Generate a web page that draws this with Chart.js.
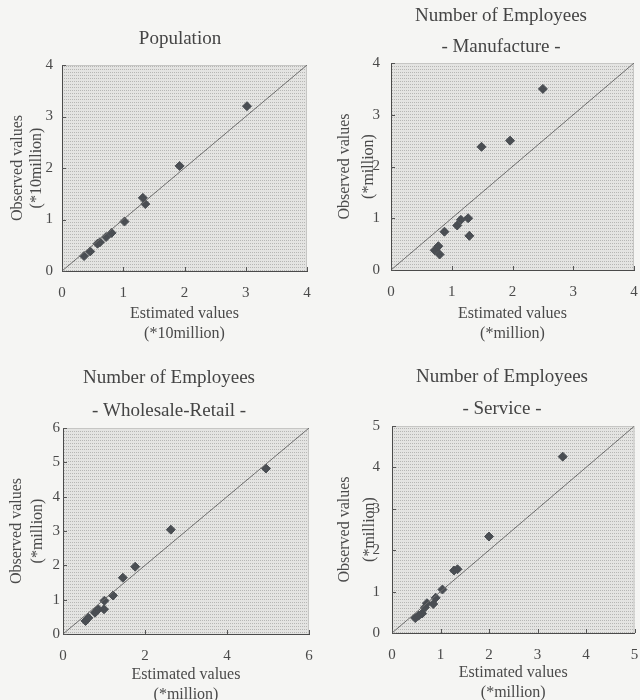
<!DOCTYPE html>
<html>
<head>
<meta charset="utf-8">
<title>Observed vs estimated</title>
<script src="https://cdn.jsdelivr.net/npm/chart.js@4.4.1/dist/chart.umd.min.js"></script>
<style>
  html, body { margin: 0; padding: 0; background: #f5f5f3; overflow: hidden; }
  .panel { position: absolute; }
</style>
</head>
<body>
<div class="panel" style="left:0;top:0"><canvas id="c1" width="320" height="350"></canvas></div>
<div class="panel" style="left:320px;top:0"><canvas id="c2" width="320" height="350"></canvas></div>
<div class="panel" style="left:0;top:350px"><canvas id="c3" width="320" height="360"></canvas></div>
<div class="panel" style="left:320px;top:350px"><canvas id="c4" width="320" height="360"></canvas></div>
<script>
const popEst = [0.36, 0.46, 0.58, 0.62, 0.72, 0.81, 1.02, 1.32, 1.36, 1.92, 3.02];
const popObs = [0.29, 0.38, 0.53, 0.56, 0.66, 0.74, 0.96, 1.42, 1.30, 2.04, 3.20];

const manEst = [0.72, 0.78, 0.80, 0.88, 1.09, 1.15, 1.27, 1.29, 1.49, 1.96, 2.50];
const manObs = [0.38, 0.46, 0.30, 0.74, 0.86, 0.97, 1.00, 0.66, 2.38, 2.50, 3.50];

const wsEst = [0.55, 0.62, 0.78, 0.86, 1.00, 1.01, 1.22, 1.46, 1.76, 2.63, 4.95];
const wsObs = [0.38, 0.47, 0.62, 0.72, 0.72, 0.97, 1.12, 1.64, 1.96, 3.04, 4.82];

const svEst = [0.48, 0.55, 0.62, 0.68, 0.72, 0.85, 0.90, 1.04, 1.28, 1.35, 2.00, 3.52];
const svObs = [0.36, 0.42, 0.47, 0.62, 0.72, 0.70, 0.85, 1.05, 1.51, 1.54, 2.33, 4.26];

const axisMax = [4, 4, 6, 5];
const xStep = [1, 1, 2, 1];
const yStep = [1, 1, 1, 1];

const panelTitles = [
  ['Population'],
  ['Number of Employees', '- Manufacture -'],
  ['Number of Employees', '- Wholesale-Retail -'],
  ['Number of Employees', '- Service -']
];
const unitLabels = ['(*10million)', '(*million)', '(*million)', '(*million)'];

const serif = '"Liberation Serif", "Times New Roman", serif';
const textGray = '#4a4a4a';

// where each panel sits inside its canvas
const layouts = [
  { id: 'c1', yW: 62, xH: 79, right: 13, tPad: [27.6, 14.6], tLH: '22.8px', tCx: 180, yPad: 7.75, yLH: '19.5px', yTick: 9, xPadB: 6 },
  { id: 'c2', yW: 71, xH: 80, right: 6, tPad: [1, 0], tLH: '31px', tCx: 181, yPad: 13, yLH: '24px', yTick: 11, xPadB: 6 },
  { id: 'c3', yW: 63, xH: 76, right: 11, tPad: [11.5, 0.5], tLH: '33px', tCx: 169, yPad: 6, yLH: '21px', yTick: 3, xPadB: 5 },
  { id: 'c4', yW: 72, xH: 77, right: 5, tPad: [11, 1], tLH: '32px', tCx: 182, yPad: 12.5, yLH: '25px', yTick: 12, xPadB: 7 }
];

const series = [[popEst, popObs], [manEst, manObs], [wsEst, wsObs], [svEst, svObs]];

let dotPattern = null;
function getPattern(ctx) {
  if (dotPattern) return dotPattern;
  const c = document.createElement('canvas');
  c.width = 2; c.height = 3;
  const g = c.getContext('2d');
  g.fillStyle = '#e4e4e2';
  g.fillRect(0, 0, 2, 3);
  g.fillStyle = '#b6b6b4';
  g.fillRect(0, 0, 1, 1);
  dotPattern = ctx.createPattern(c, 'repeat');
  return dotPattern;
}

// dotted plot background + small inward tick marks
const plotFrame = {
  id: 'plotFrame',
  afterLayout(chart, args, opts) {
    // the titles sit a bit left of the plot centre
    const tb = chart.titleBlock;
    if (tb && opts.cx) {
      tb.left = opts.cx - 160;
      tb.right = opts.cx + 160;
    }
  },
  beforeDraw(chart) {
    const { ctx, chartArea: a } = chart;
    ctx.save();
    ctx.fillStyle = getPattern(ctx);
    ctx.fillRect(a.left, a.top, a.width, a.height);
    ctx.strokeStyle = '#c6c6c4';
    ctx.lineWidth = 1;
    ctx.beginPath();
    ctx.moveTo(a.left, a.top + 0.5);
    ctx.lineTo(a.right - 0.5, a.top + 0.5);
    ctx.lineTo(a.right - 0.5, a.bottom);
    ctx.stroke();
    ctx.restore();
  },
  afterDraw(chart) {
    const { ctx, chartArea: a, scales } = chart;
    ctx.save();
    ctx.strokeStyle = '#555';
    ctx.lineWidth = 1;
    ctx.beginPath();
    scales.x.ticks.forEach(t => {
      const px = Math.round(scales.x.getPixelForValue(t.value)) + 0.5;
      ctx.moveTo(px, a.bottom);
      ctx.lineTo(px, a.bottom - 4);
    });
    scales.y.ticks.forEach(t => {
      const py = Math.round(scales.y.getPixelForValue(t.value)) + 0.5;
      ctx.moveTo(a.left, py);
      ctx.lineTo(a.left + 4, py);
    });
    ctx.stroke();
    ctx.restore();
  }
};

layouts.forEach((lay, i) => {
  const est = series[i][0];
  const obs = series[i][1];
  const pts = est.map((v, k) => ({ x: v, y: obs[k] }));
  const max = axisMax[i];

  new Chart(document.getElementById(lay.id), {
    type: 'scatter',
    data: {
      datasets: [
        {
          type: 'line',
          data: [{ x: 0, y: 0 }, { x: max, y: max }],
          borderColor: '#6c6c6c',
          borderWidth: 1,
          pointRadius: 0,
          fill: false
        },
        {
          data: pts,
          pointStyle: 'rectRot',
          pointRadius: 4.5,
          backgroundColor: '#4a4e53',
          borderColor: '#4a4e53',
          borderWidth: 1
        }
      ]
    },
    options: {
      responsive: false,
      animation: false,
      layout: { padding: { left: 0, right: lay.right, top: 0, bottom: 0 } },
      plugins: {
        legend: { display: false },
        tooltip: { enabled: false },
        plotFrame: { cx: lay.tCx },
        title: {
          display: true,
          text: panelTitles[i],
          color: '#444',
          font: { family: serif, size: 19, weight: 'normal', lineHeight: lay.tLH },
          padding: { top: lay.tPad[0], bottom: lay.tPad[1] }
        }
      },
      scales: {
        x: {
          type: 'linear',
          min: 0,
          max: max,
          afterFit: s => {
            s.height = lay.xH;
            // keep the plot edge where the layout says, labels may overhang
            s.paddingLeft = 0;
            s.paddingRight = 0;
          },
          grid: { display: false, drawTicks: false },
          border: { display: true, color: '#4a4a4a', width: 1 },
          ticks: {
            stepSize: xStep[i],
            color: textGray,
            padding: 13,
            maxRotation: 0,
            font: { family: serif, size: 15 }
          },
          title: {
            display: true,
            text: ['Estimated values', unitLabels[i]],
            color: textGray,
            font: { family: serif, size: 16, lineHeight: '20px' },
            padding: { top: 0, bottom: lay.xPadB }
          }
        },
        y: {
          type: 'linear',
          min: 0,
          max: max,
          afterFit: s => { s.width = lay.yW; },
          grid: { display: false, drawTicks: false },
          border: { display: true, color: '#4a4a4a', width: 1 },
          ticks: {
            stepSize: yStep[i],
            autoSkip: false,
            color: textGray,
            padding: lay.yTick,
            font: { family: serif, size: 15 }
          },
          title: {
            display: true,
            text: ['Observed values', unitLabels[i]],
            color: textGray,
            font: { family: serif, size: 16, lineHeight: lay.yLH },
            padding: { top: lay.yPad, bottom: 0 }
          }
        }
      }
    },
    plugins: [plotFrame]
  });
});
</script>
</body>
</html>
